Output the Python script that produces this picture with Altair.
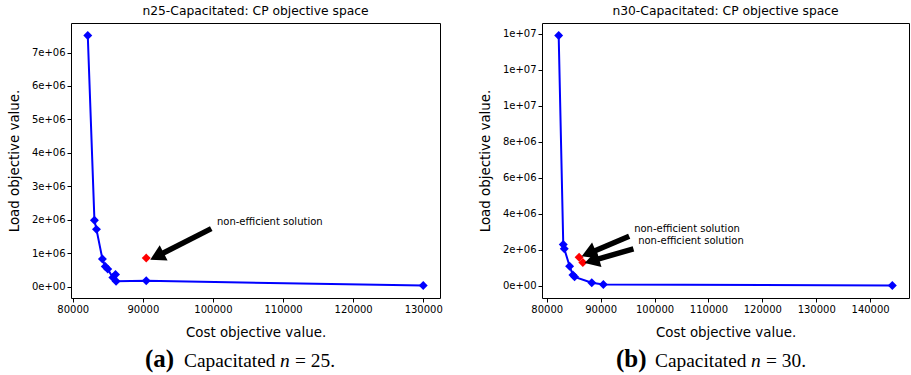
import altair as alt
import pandas as pd

# ---- n = 25 capacitated instance -------------------------------------------
cost_25 = [82140, 83090, 83380, 84230, 84640, 84990, 85720, 86100, 86180, 90480, 130000]
load_25 = [7510000, 1980000, 1710000, 820000, 600000, 520000, 270000, 360000, 160000, 170000, 30000]
cost_25_ne = [90480]
load_25_ne = [850000]

# ---- n = 30 capacitated instance -------------------------------------------
cost_30 = [82210, 83060, 83250, 84240, 84850, 85160, 88350, 90500, 144120]
load_30 = [13900000, 2280000, 2040000, 1070000, 590000, 480000, 150000, 60000, 0]
cost_30_ne = [86000, 86690]
load_30_ne = [1570000, 1280000]

# tick values
xticks_25 = [80000, 90000, 100000, 110000, 120000, 130000]
yticks_25 = [0, 1e6, 2e6, 3e6, 4e6, 5e6, 6e6, 7e6]
xticks_30 = [80000, 90000, 100000, 110000, 120000, 130000, 140000]
yticks_30 = [0, 2e6, 4e6, 6e6, 8e6, 10e6, 12e6, 14e6]

NOTE = "non-efficient solution"

# annotation arrows: tail (cost, load) -> head centre (cost2, load2), head angle
arrows_25 = {"cost": [99758], "load": [1733000], "cost2": [92009], "load2": [905000], "angle": [243]}
notes_25 = {"cost": [100570], "load": [1852000], "t": [NOTE]}
arrows_30 = {"cost": [95294, 96086], "load": [2739000, 2039000],
             "cost2": [87757, 88366], "load2": [1783000, 1372000], "angle": [247, 254]}
notes_30 = {"cost": [96215, 96952], "load": [2972000, 2306000], "t": [NOTE, " " + NOTE]}

BLUE = "#0000ff"
RED = "#ff0000"
W, H = 369, 275


def padded(vals):
    lo, hi = min(vals), max(vals)
    m = 0.05 * (hi - lo)
    return [lo - m, hi + m]


def panel(cost, load, cost_ne, load_ne, title, letter, n, arrows, notes,
          xticks, yticks, width):
    pts = pd.DataFrame({"cost": cost, "load": load, "order": list(range(len(cost)))})
    ne = pd.DataFrame({"cost": cost_ne, "load": load_ne})
    xs = alt.Scale(domain=padded(cost + cost_ne), nice=False, zero=False)
    ys = alt.Scale(domain=padded(load + load_ne), nice=False, zero=False)
    X = alt.X("cost:Q", scale=xs,
              axis=alt.Axis(values=xticks, format="d", title="Cost objective value."))
    Y = alt.Y("load:Q", scale=ys,
              axis=alt.Axis(values=yticks,
                            labelExpr="replace(format(datum.value, '.0e'), 'e+', 'e+0')",
                            title="Load objective value."))

    line = alt.Chart(pts).mark_line(color=BLUE, strokeWidth=2).encode(
        x=X, y=Y, order="order:Q")
    dots = alt.Chart(pts).mark_point(shape="diamond", filled=True, size=80,
                                     color=BLUE, opacity=1).encode(x=X, y=Y)
    red = alt.Chart(ne).mark_point(shape="diamond", filled=True, size=80,
                                   color=RED, opacity=1).encode(x=X, y=Y)

    arr = pd.DataFrame(arrows)
    shaft = alt.Chart(arr).mark_rule(color="black", strokeWidth=5.5).encode(
        x=X, y=Y, x2="cost2:Q", y2="load2:Q")
    heads = pd.DataFrame({"cost": arrows["cost2"], "load": arrows["load2"],
                          "angle": arrows["angle"]})
    head = alt.Chart(heads).mark_point(shape="triangle-up", filled=True, size=300,
                                       color="black", opacity=1).encode(
        x=X, y=Y, angle=alt.Angle("angle:Q", scale=None))
    txt = alt.Chart(pd.DataFrame(notes)).mark_text(
        align="left", baseline="alphabetic", font="DejaVu Sans", fontSize=10,
        color="black").encode(x=X, y=Y, text="t:N")

    # sub-figure caption below the x axis
    cy = H + 69
    cap = []
    for text, x0, font_kw in [
        (f"({letter})", 74, dict(fontSize=25, fontWeight="bold")),
        ("Capacitated", 113, dict(fontSize=19.4)),
        ("n", 209, dict(fontSize=19.4, fontStyle="italic")),
        (f"= {n}.", 224, dict(fontSize=19.4)),
    ]:
        cap.append(alt.Chart(pd.DataFrame({"t": [text]})).mark_text(
            align="left", baseline="alphabetic", font="Liberation Serif",
            color="black", **font_kw).encode(
            x=alt.value(x0), y=alt.value(cy), text="t:N"))

    return alt.layer(line, dots, red, shaft, head, txt, *cap).properties(
        width=width, height=H,
        title=alt.TitleParams(title, font="DejaVu Sans", fontSize=12.3,
                              fontWeight="normal", color="black", offset=6))


left = panel(cost_25, load_25, cost_25_ne, load_25_ne,
             "n25-Capacitated: CP objective space", "a", 25,
             arrows_25, notes_25, xticks_25, yticks_25, W)
right = panel(cost_30, load_30, cost_30_ne, load_30_ne,
              "n30-Capacitated: CP objective space", "b", 30,
              arrows_30, notes_30, xticks_30, yticks_30, 367)

chart = alt.hconcat(left, right, spacing=102, bounds="flush").properties(
    padding={"left": 6, "top": 4, "right": 0, "bottom": 0}
).configure_axis(
    labelFont="DejaVu Sans", labelFontSize=10, labelColor="black",
    titleFont="DejaVu Sans", titleFontSize=13.4, titleFontWeight="normal",
    titleColor="black", tickColor="black", tickSize=4, tickWidth=1,
    grid=False, domain=False, labelPadding=2, labelFlush=False,
    labelOverlap=False
).configure_axisX(titlePadding=11).configure_axisY(titlePadding=10).configure_view(
    stroke="black", strokeWidth=1
)

chart.save("out.html", embed_options={"renderer": "svg", "actions": False})
